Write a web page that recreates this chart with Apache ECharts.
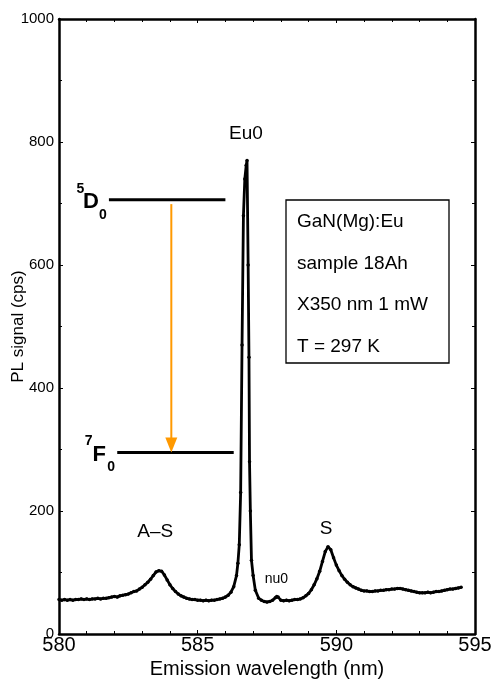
<!DOCTYPE html>
<html>
<head>
<meta charset="utf-8">
<script src="https://cdn.jsdelivr.net/npm/echarts@6/dist/echarts.min.js"></script>
<style>
  html, body { margin: 0; padding: 0; background: #fff; }
</style>
</head>
<body>
<div id="chart" style="width: 494px; height: 683px"></div>
<script>
// emission spectrum
const wavelength = [
  580.0, 580.1, 580.2, 580.3, 580.4, 580.5, 580.6, 580.7, 580.8, 580.9,
  581.0, 581.1, 581.2, 581.3, 581.4, 581.5, 581.6, 581.7, 581.8, 581.9,
  582.0, 582.1, 582.2, 582.3, 582.4, 582.5, 582.6, 582.7, 582.8, 582.9,
  583.0, 583.1, 583.2, 583.3, 583.4, 583.5, 583.6, 583.7, 583.8, 583.9,
  584.0, 584.1, 584.2, 584.3, 584.4, 584.5, 584.6, 584.7, 584.8, 584.9,
  585.0, 585.1, 585.2, 585.3, 585.4, 585.5, 585.6, 585.7, 585.8, 585.9,
  586.0, 586.1, 586.2, 586.3, 586.4, 586.45, 586.5, 586.55, 586.6, 586.65,
  586.7, 586.75, 586.78, 586.82, 586.85, 586.87, 586.9, 586.94, 587.0, 587.08,
  587.2, 587.3, 587.4, 587.5, 587.6, 587.7, 587.8, 587.85, 587.9, 588.0,
  588.1, 588.2, 588.3, 588.4, 588.5, 588.6, 588.7, 588.8, 588.9, 589.0,
  589.1, 589.2, 589.3, 589.4, 589.5, 589.6, 589.7, 589.8, 589.9, 590.0,
  590.1, 590.2, 590.3, 590.4, 590.5, 590.6, 590.7, 590.8, 590.9, 591.0,
  591.1, 591.2, 591.3, 591.4, 591.5, 591.6, 591.7, 591.8, 591.9, 592.0,
  592.1, 592.2, 592.3, 592.4, 592.5, 592.6, 592.7, 592.8, 592.9, 593.0,
  593.1, 593.2, 593.3, 593.4, 593.5, 593.6, 593.7, 593.8, 593.9, 594.0,
  594.1, 594.2, 594.3, 594.4, 594.5
];
const signal = [
  56, 55, 56, 55, 56, 55, 56, 56, 57, 56,
  57, 56, 57, 57, 58, 57, 58, 58, 59, 60,
  61, 60, 62, 63, 64, 65, 67, 69, 70, 73,
  76, 80, 84, 89, 95, 101, 103, 102, 96, 88,
  80, 74, 69, 65, 62, 60, 58, 57, 56, 56,
  55, 55, 54, 55, 54, 55, 55, 56, 57, 58,
  60, 63, 68, 77, 95, 115, 145, 230, 470, 680,
  740, 762, 770, 600, 450, 280, 200, 120, 95, 71,
  58, 55, 53, 52, 53, 55, 59, 61, 60, 55,
  54, 55, 54, 55, 56, 56, 57, 59, 62, 66,
  72, 80, 90, 102, 118, 134, 142, 137, 124, 112,
  103, 95, 89, 84, 80, 77, 75, 73, 71, 70,
  70, 69, 69, 70, 70, 71, 71, 72, 72, 73,
  73, 74, 74, 73, 72, 71, 70, 69, 68, 67,
  67, 67, 68, 67, 68, 69, 69, 70, 71, 72,
  73, 73, 74, 75, 76
];
const infoLines = ["GaN(Mg):Eu", "sample 18Ah", "X350 nm 1 mW", "T = 297 K"];

const font = "Liberation Sans, Arial, Helvetica, sans-serif";
const chart = echarts.init(document.getElementById("chart"));

const frameAxis = (pos, min, max, interval, split) => ({
  type: "value",
  position: pos,
  min: min,
  max: max,
  interval: interval,
  axisLine: { onZero: false, lineStyle: { color: "#000", width: 2.5 } },
  axisTick: { inside: true, length: 4, lineStyle: { color: "#000", width: 1 } },
  minorTick: { show: true, splitNumber: split, length: 3, lineStyle: { color: "#000", width: 1 } },
  axisLabel: { show: false },
  splitLine: { show: false },
});

const xMain = frameAxis("bottom", 580, 595, 5, 5);
xMain.axisLabel = { show: true, color: "#000", fontSize: 20, fontFamily: font, margin: 1 };
xMain.name = "Emission wavelength (nm)";
xMain.nameLocation = "middle";
xMain.nameGap = 25;
xMain.nameTextStyle = { color: "#000", fontSize: 20, fontFamily: font };

const yMain = frameAxis("left", 0, 1000, 200, 2);
yMain.axisLabel = { show: true, color: "#000", fontSize: 15, fontFamily: font, margin: 5, formatter: (v) => String(v) };
yMain.name = "PL signal (cps)";
yMain.nameLocation = "middle";
yMain.nameGap = 32;
yMain.nameMoveOverlap = false;
yMain.nameTextStyle = { color: "#000", fontSize: 17, fontFamily: font };

const option = {
  animation: false,
  grid: { left: 59, right: 19, top: 19, bottom: 49, containLabel: false, outerBoundsMode: "none" },
  xAxis: [xMain, frameAxis("top", 580, 595, 5, 5)],
  yAxis: [yMain, frameAxis("right", 0, 1000, 200, 2)],
  series: [
    {
      type: "line",
      xAxisIndex: 0,
      yAxisIndex: 0,
      data: wavelength.map((w, i) => [w, signal[i]]),
      showSymbol: true,
      showAllSymbol: true,
      symbol: "circle",
      symbolSize: 3.5,
      itemStyle: { color: "#000" },
      lineStyle: { color: "#000", width: 2.8 },
    },
  ],
};
chart.setOption(option);

// annotations placed in data space
const px = (x, y) => chart.convertToPixel({ xAxisIndex: 0, yAxisIndex: 0 }, [x, y]);
const label = (x, y, text, size, weight) => {
  const p = px(x, y);
  return {
    type: "text", x: p[0], y: p[1],
    style: { text: text, fill: "#000", font: (weight || "normal") + " " + size + "px " + font, align: "center", verticalAlign: "middle" },
  };
};
const levelD0 = [px(581.8, 706), px(586.0, 706)];
const levelF0 = [px(582.1, 295), px(586.3, 295)];
const arrTop = px(584.05, 699);
const arrTip = px(584.05, 295);

const levelText = (start, sup, main, sub) => [
  { type: "text", x: start[0] - 28.5, y: start[1] - 11, style: { text: sup, fill: "#000", font: "bold 14px " + font, align: "center", verticalAlign: "middle" } },
  { type: "text", x: start[0] - 18, y: start[1] + 2.5, style: { text: main, fill: "#000", font: "bold 22px " + font, align: "center", verticalAlign: "middle" } },
  { type: "text", x: start[0] - 6, y: start[1] + 15, style: { text: sub, fill: "#000", font: "bold 14px " + font, align: "center", verticalAlign: "middle" } },
];

const boxX = 286, boxY = 200, boxW = 163, boxH = 163;
const boxTexts = infoLines.map((t, i) => ({
  type: "text", x: boxX + 11, y: boxY + 22 + i * 41.5,
  style: { text: t, fill: "#000", font: "19px " + font, align: "left", verticalAlign: "middle" },
}));

chart.setOption({
  graphic: [
    label(586.74, 813, "Eu0", 19),
    label(583.47, 167, "A\u2013S", 19),
    label(589.63, 171, "S", 19),
    label(587.84, 90, "nu0", 14),
    { type: "line", shape: { x1: levelD0[0][0], y1: levelD0[0][1], x2: levelD0[1][0], y2: levelD0[1][1] }, style: { stroke: "#000", lineWidth: 3 } },
    { type: "line", shape: { x1: levelF0[0][0], y1: levelF0[0][1], x2: levelF0[1][0], y2: levelF0[1][1] }, style: { stroke: "#000", lineWidth: 3 } },
    { type: "line", shape: { x1: arrTop[0], y1: arrTop[1], x2: arrTip[0], y2: arrTip[1] - 12 }, style: { stroke: "#FF9900", lineWidth: 2 } },
    { type: "polygon", shape: { points: [[arrTip[0] - 6, arrTip[1] - 15], [arrTip[0] + 6, arrTip[1] - 15], [arrTip[0], arrTip[1]]] }, style: { fill: "#FF9900" } },
    ...levelText(levelD0[0], "5", "D", "0"),
    ...levelText(levelF0[0], "7", "F", "0"),
    { type: "rect", shape: { x: boxX, y: boxY, width: boxW, height: boxH }, style: { fill: "none", stroke: "#000", lineWidth: 1.3 } },
    ...boxTexts,
  ],
});
</script>
</body>
</html>
